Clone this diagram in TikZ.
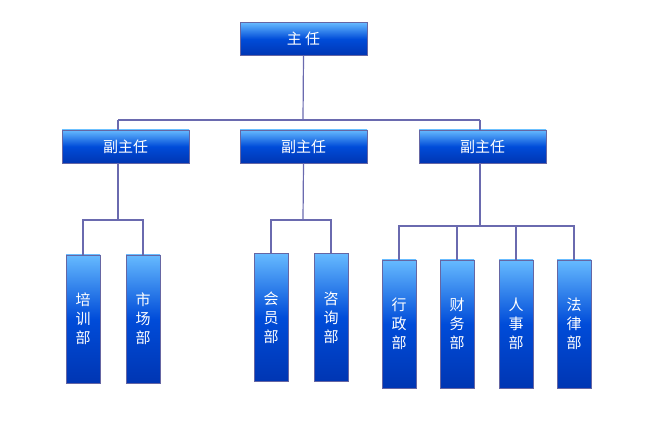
\documentclass[tikz,border=0pt]{standalone}
\usepackage{fontspec}
\setmainfont{Noto Sans CJK SC}
\begin{document}
\begin{tikzpicture}[x=1pt,y=-1pt,
  box/.style={draw=blue!40!black!60, top color=blue!45!cyan!60!white, bottom color=blue!70!cyan!70!black, middle color=blue!65!cyan!85!black, shading angle=0,text=white, inner sep=0pt, font=\fontsize{15}{15}\selectfont},
  hbox/.style={box, minimum width=127pt, minimum height=33pt},
  vbox/.style={box, minimum width=34pt, minimum height=128pt, align=center, font=\fontsize{15}{19}\selectfont},
  ln/.style={draw=blue!30!gray!90, line width=1.2pt}]
\useasboundingbox (0,0) rectangle (645,438);
\node[hbox] (top) at (303.5,39) {主\ 任};
\node[hbox] (v1) at (125.5,146.5) {副主任};
\node[hbox] (v2) at (303.5,146.5) {副主任};
\node[hbox] (v3) at (482.5,146.5) {副主任};
\node[vbox] (a1) at (83,319) {培\\训\\部};
\node[vbox] (a2) at (143,319) {市\\场\\部};
\node[vbox] (b1) at (271,317.5) {会\\员\\部};
\node[vbox] (b2) at (331,317.5) {咨\\询\\部};
\node[vbox] (c1) at (399,324) {行\\政\\部};
\node[vbox] (c2) at (457,324) {财\\务\\部};
\node[vbox] (c3) at (516,324) {人\\事\\部};
\node[vbox] (c4) at (574,324) {法\\律\\部};
\draw[ln] (top.south) -- (303,120) coordinate (t);
\draw[ln] (118,120) -- (480,120);
\draw[ln] (118,120) -- (v1.north-|118,0);
\draw[ln] (480,120) -- (v3.north-|480,0);
\draw[ln] (v1.south-|118,0) -- (118,220) coordinate (p1);
\draw[ln] (a1.north) -- (83,220) -- (143,220) -- (a2.north);
\draw[ln] (v2.south) -- (303,220);
\draw[ln] (b1.north) -- (271,220) -- (331,220) -- (b2.north);
\draw[ln] (v3.south-|480,0) -- (480,226);
\draw[ln] (c1.north) -- (399,226) -- (574,226) -- (c4.north);
\draw[ln] (c2.north) -- (457,226);
\draw[ln] (c3.north) -- (516,226);
\end{tikzpicture}
\end{document}
